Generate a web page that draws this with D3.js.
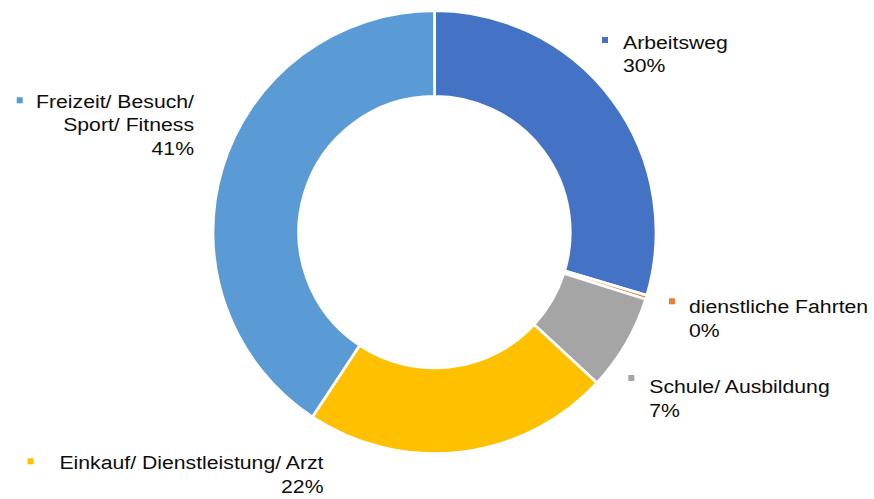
<!DOCTYPE html>
<html>
<head>
<meta charset="utf-8">
<script src="https://cdn.jsdelivr.net/npm/d3@7"></script>
<style>
  html, body { margin: 0; padding: 0; background: #fff; }
  svg { display: block; }
  .lbl { font-family: "Liberation Sans", Arial, sans-serif; font-size: 19px; fill: #0d0d0d; }
</style>
</head>
<body>
<div id="chart"></div>
<script>
var svgWidth = 874;
var svgHeight = 499;

// data
var categories = ["Arbeitsweg", "dienstliche Fahrten", "Schule/ Ausbildung", "Einkauf/ Dienstleistung/ Arzt", "Freizeit/ Besuch/ Sport/ Fitness"];
var shares = [29.6, 0.3, 7.0, 22.4, 40.7];
var colors = ["#4472C4", "#ED7D31", "#A5A5A5", "#FFC000", "#5B9BD5"];
// label text broken into lines as in the picture
var labelLines = [
  ["Arbeitsweg"],
  ["dienstliche Fahrten"],
  ["Schule/ Ausbildung"],
  ["Einkauf/ Dienstleistung/ Arzt"],
  ["Freizeit/ Besuch/", "Sport/ Fitness"]
];

// label placement (x, first baseline, anchor, marker x, marker y)
var labelPos = [
  {x: 623, y: 48.5, anchor: "start", mx: 602, my: 37},
  {x: 689, y: 313.3, anchor: "start", mx: 669, my: 298.3},
  {x: 649.3, y: 393.3, anchor: "start", mx: 628.3, my: 375},
  {x: 323.5, y: 469, anchor: "end", mx: 27.5, my: 458.3},
  {x: 194, y: 107.7, anchor: "end", mx: 16.7, my: 97.3}
];

var cx = 434.5, cy = 232.2;
var outerR = 221.5, innerR = 135.8;
var lineH = 23.6;
var stretch = 1.117;

var svg = d3.select("#chart")
  .append("svg")
  .attr("width", svgWidth)
  .attr("height", svgHeight);

var total = d3.sum(shares);
var pct = d3.format(".0%");

var pie = d3.pie()
  .sort(null)
  .value(d => d);

var arc = d3.arc()
  .innerRadius(innerR)
  .outerRadius(outerR);

var ring = svg.append("g")
  .attr("transform", `translate(${cx}, ${cy})`);

ring.selectAll("path")
  .data(pie(shares))
  .enter()
  .append("path")
  .attr("d", arc)
  .attr("fill", (d, i) => colors[i])
  .attr("stroke", "#fff")
  .attr("stroke-width", 2.7)
  .attr("stroke-linejoin", "miter");

// data labels
var labels = svg.selectAll("g.label")
  .data(categories)
  .enter()
  .append("g")
  .attr("class", "label");

labels.append("rect")
  .attr("x", (d, i) => labelPos[i].mx)
  .attr("y", (d, i) => labelPos[i].my)
  .attr("width", 6)
  .attr("height", 6)
  .attr("fill", (d, i) => colors[i]);

labels.append("text")
  .attr("class", "lbl")
  .attr("transform", (d, i) => `translate(${labelPos[i].x}, ${labelPos[i].y}) scale(${stretch}, 1)`)
  .attr("text-anchor", (d, i) => labelPos[i].anchor)
  .each(function(d, i) {
    var t = d3.select(this);
    var lines = labelLines[i].concat([pct(shares[i] / total)]);
    lines.forEach((ln, k) => {
      t.append("tspan")
        .attr("x", 0)
        .attr("y", k * lineH)
        .text(ln);
    });
  });
</script>
</body>
</html>
